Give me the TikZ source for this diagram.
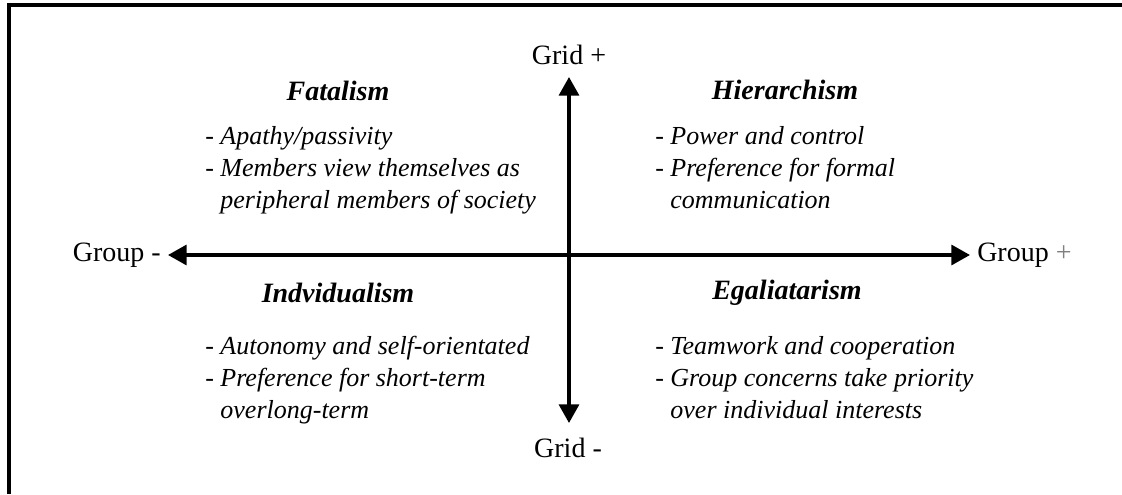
\documentclass[tikz,border=0pt]{standalone}
\usepackage{fontspec}
\setmainfont{Liberation Serif}
\usetikzlibrary{arrows.meta}
\usetikzlibrary{positioning}
\tikzset{axis/.style = {line width = 2.5pt, {Triangle[length = 14pt, width = 15pt]}-{Triangle[length = 14pt, width = 15pt]}}}
\tikzset{axlabel/.style = {font = \fontsize{21}{24}\selectfont, inner sep = 0}}
\tikzset{quadtitle/.style = {font = \fontsize{21}{24}\selectfont\bfseries\itshape, inner sep = 0}}
\tikzset{quaditems/.style = {font = \fontsize{19.5}{24}\selectfont\itshape, align = left, anchor = north west, inner sep = 0}}
\newcommand{\hang}{\phantom{- }}

\begin{document}
\begin{tikzpicture}[x = 0.75pt, y = -0.75pt]
      \useasboundingbox (0, 0) rectangle (1122, 494);

      % frame, open at the bottom and right
      \draw [line width = 2.5pt] (9, 494) -- (9, 5) -- (1122, 5);

      \coordinate (gridtop) at (569, 77);
      \coordinate (gridbot) at (569, 423);
      \coordinate (groupl) at (168, 255);
      \coordinate (groupr) at (970, 255);

      \draw [axis] (gridbot) -- (gridtop);
      \draw [axis] (groupl) -- (groupr);

      \node [axlabel] (gridplus) at (569, 55) {Grid +};
      \node [axlabel] (gridminus) at (568, 448) {Grid -};
      \node [axlabel, anchor = east] (groupminus) at (161, 255) {Group -};
      \node [axlabel, anchor = west] (groupplus) at (977, 255) {Group \textcolor{gray}{+}};

      \node [quadtitle] (fatal) at (338, 91) {Fatalism};
      \node [quadtitle] (hier) at (785, 90) {Hierarchism};
      \node [quadtitle] (indiv) at (338, 293) {Indvidualism};
      \node [quadtitle] (egal) at (787, 293) {Egaliatarism};

      \node [quaditems] (fatalitems) at (205, 126) {- Apathy/passivity\\- Members view themselves as\\\hang peripheral members of society};
      \node [quaditems] (hieritems) at (655, 126) {- Power and control\\- Preference for formal\\\hang communication};
      \node [quaditems] (indivitems) at (205, 336) {- Autonomy and self-orientated\\- Preference for short-term\\\hang overlong-term};
      \node [quaditems] (egalitems) at (655, 336) {- Teamwork and cooperation\\- Group concerns take priority\\\hang over individual interests};
    \end{tikzpicture}
\end{document}
